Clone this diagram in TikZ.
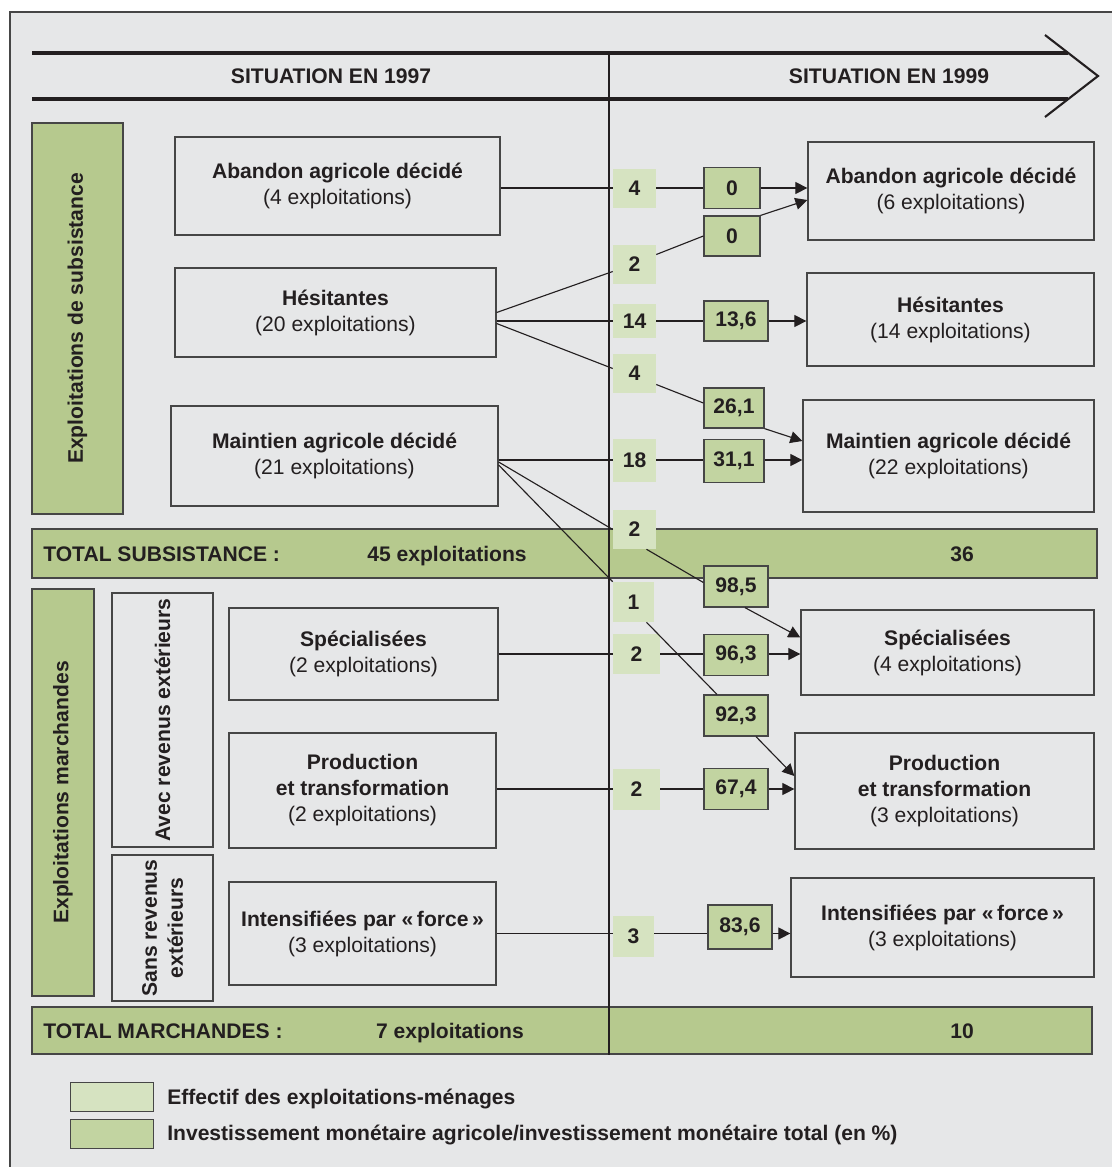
\documentclass[tikz,border=0pt]{standalone}
\usepackage{fontspec}
\setmainfont{Liberation Sans}
\usetikzlibrary{calc,arrows.meta}
\definecolor{fond}{RGB}{230,231,232}
\definecolor{encre}{RGB}{35,31,32}
\definecolor{bord}{RGB}{70,70,70}
\definecolor{vert}{RGB}{182,201,142}
\definecolor{vertclair}{RGB}{214,227,193}
\definecolor{vertinv}{RGB}{194,212,161}
\newcommand\policebox{\fontsize{15}{18.5}\selectfont}
\tikzset{
  taille/.style 2 args={minimum width=#1*0.025cm, minimum height=#2*0.025cm},
  texte/.style={font=\policebox, text=encre, inner sep=0pt},
  gras/.style={font=\policebox\bfseries, text=encre, inner sep=0pt},
  groupe/.style={texte, draw=bord, line width=0.9pt, align=center},
  vertical/.style={gras, draw=bord, line width=0.9pt, rotate=90, align=center},
  barre/.style={draw=bord, fill=vert, line width=0.9pt, inner sep=0pt},
  effectif/.style={gras, fill=vertclair},
  invest/.style={gras, fill=vertinv, draw=bord, line width=0.9pt},
  legende/.style={draw=bord, line width=0.6pt, inner sep=0pt},
  entete/.style={draw=encre, line width=2.2pt},
  lien/.style={draw=encre, line width=0.8pt},
  fleche/.style={lien, -{Triangle[length=8.5pt,width=8.5pt]}},
}

\begin{document}
\begin{tikzpicture}[x=0.025cm,y=-0.025cm]
  \useasboundingbox (0,0) rectangle (1112,1167);
  \fill[white] (0,0) rectangle (1112,1167);
  \fill[fond] (10,12) rectangle (1112,1167);
  \draw[bord, line width=1pt] (10,1167) -- (10,12) -- (1112,12);

  % bandeau des dates
  \draw[entete] (32,53) -- (1068,53);
  \draw[entete] (32,99) -- (1068,99);
  \draw[encre, line width=1.5pt, line join=miter] (1045,35) -- (1098,76) -- (1045,117);
  \node[gras] (an97) at (331,76) {SITUATION EN 1997};
  \node[gras] (an99) at (889,76) {SITUATION EN 1999};

  % totaux
  \node[barre, taille={1065}{49}] (totsub) at (564.5,553.5) {};
  \node[barre, taille={1060}{47}] (totmar) at (562,1030.5) {};
  \draw[encre, line width=1.6pt] (609,53) -- (609,1055);
  \node[gras, anchor=base west] (totsubnom) at (43,561) {TOTAL SUBSISTANCE :};
  \node[gras, anchor=base] (totsub97) at (447,561) {45 exploitations};
  \node[gras, anchor=base] (totsub99) at (962,561) {36};
  \node[gras, anchor=base west] (totmarnom) at (43,1038) {TOTAL MARCHANDES :};
  \node[gras, anchor=base] (totmar97) at (450,1038) {7 exploitations};
  \node[gras, anchor=base] (totmar99) at (962,1038) {10};

  % categories
  \node[vertical, fill=vert, taille={391}{91}] (subsist) at (77.5,318.5) {Exploitations de subsistance};
  \node[vertical, fill=vert, taille={407}{62}] (marchand) at (63,792.5) {Exploitations marchandes};
  \node[vertical, taille={254}{101}] (avec) at (162.5,720) {Avec revenus extérieurs};
  \node[vertical, taille={146}{101}] (sans) at (162.5,928) {Sans revenus\\extérieurs};

  % situation 1997
  \node[groupe, taille={325}{98}] (gauche1) at (337.5,186) {\textbf{Abandon agricole décidé}\\(4 exploitations)};
  \node[groupe, taille={321}{89}] (gauche2) at (335.5,312.5) {\textbf{Hésitantes}\\(20 exploitations)};
  \node[groupe, taille={327}{100}] (gauche3) at (334.5,456) {\textbf{Maintien agricole décidé}\\(21 exploitations)};
  \node[groupe, taille={269}{92}] (gauche4) at (363.5,654) {\textbf{Spécialisées}\\(2 exploitations)};
  \node[groupe, taille={267}{115}] (gauche5) at (362.5,790.5) {\textbf{Production}\\\textbf{et transformation}\\(2 exploitations)};
  \node[groupe, taille={267}{103}] (gauche6) at (362.5,933.5) {\textbf{Intensifiées par «\,force\,»}\\(3 exploitations)};

  % situation 1999
  \node[groupe, taille={286}{98}] (droite1) at (951,191) {\textbf{Abandon agricole décidé}\\(6 exploitations)};
  \node[groupe, taille={287}{93}] (droite2) at (950.5,319.5) {\textbf{Hésitantes}\\(14 exploitations)};
  \node[groupe, taille={291}{112}] (droite3) at (948.5,456) {\textbf{Maintien agricole décidé}\\(22 exploitations)};
  \node[groupe, taille={293}{85}] (droite4) at (947.5,652.5) {\textbf{Spécialisées}\\(4 exploitations)};
  \node[groupe, taille={299}{116}] (droite5) at (944.5,791) {\textbf{Production}\\\textbf{et transformation}\\(3 exploitations)};
  \node[groupe, taille={303}{99}] (droite6) at (942.5,927.5) {\textbf{Intensifiées par «\,force\,»}\\(3 exploitations)};

  % effectifs
  \node[effectif, taille={43}{39}] (eff1) at (634.5,188) {4};
  \node[effectif, taille={43}{39}] (eff2) at (634.5,264.5) {2};
  \node[effectif, taille={43}{34}] (eff3) at (634.5,321) {14};
  \node[effectif, taille={43}{39}] (eff4) at (634.5,373.5) {4};
  \node[effectif, taille={43}{43}] (eff5) at (634.5,460) {18};
  \node[effectif, taille={43}{39}] (eff6) at (634.5,529.5) {2};
  \node[effectif, taille={41}{40}] (eff7) at (633.5,602) {1};
  \node[effectif, taille={47}{40}] (eff8) at (636.5,654) {2};
  \node[effectif, taille={47}{41}] (eff9) at (636.5,789) {2};
  \node[effectif, taille={41}{41}] (eff10) at (633.5,936.5) {3};

  % investissements
  \node[invest, taille={56}{41}] (inv1) at (732,188) {0};
  \node[invest, taille={56}{40}] (inv2) at (732,236) {0};
  \node[invest, taille={64}{40}] (inv3) at (736,321) {13,6};
  \node[invest, taille={60}{40}] (inv4) at (734,408) {26,1};
  \node[invest, taille={60}{43}] (inv5) at (734,461) {31,1};
  \node[invest, taille={64}{41}] (inv6) at (736,586.5) {98,5};
  \node[invest, taille={64}{41}] (inv7) at (736,655) {96,3};
  \node[invest, taille={64}{41}] (inv8) at (736,715.5) {92,3};
  \node[invest, taille={64}{41}] (inv9) at (736,789) {67,4};
  \node[invest, taille={64}{44}] (inv10) at (740,927) {83,6};

  % flux
  \draw[lien] (eff1.west -| gauche1.east) -- (eff1.west);
  \draw[lien] (eff1.east) -- (eff1.east -| inv1.west);
  \draw[fleche] (inv1.east) -- (inv1.east -| droite1.west);

  \draw[lien] (gauche2.east) -- ($(eff2.west)+(0,7)$);
  \draw[lien] ($(eff2.east)+(0,-10)$) -- (inv2.west);
  \draw[fleche] (inv2.north east) -- ($(droite1.west)+(0,9)$);

  \draw[lien] (eff3.west -| gauche2.east) -- (eff3.west);
  \draw[lien] (eff3.east) -- (eff3.east -| inv3.west);
  \draw[fleche] (inv3.east |- eff3.east) -- (eff3.east -| droite2.west);

  \draw[lien] ($(gauche2.east)+(0,11)$) -- ($(eff4.west)+(0,-5)$);
  \draw[lien] ($(eff4.east)+(0,11)$) -- ($(inv4.west)+(0,-5)$);
  \draw[fleche] (inv4.south east) -- ($(droite3.west)+(0,-15)$);

  \draw[lien] (eff5.west -| gauche3.east) -- (eff5.west);
  \draw[lien] (eff5.east) -- (eff5.east -| inv5.west);
  \draw[fleche] (inv5.east |- eff5.east) -- (eff5.east -| droite3.west);

  \draw[lien] ($(gauche3.east)+(0,6)$) -- (eff6.west);
  \draw[lien] ($(eff6.south)+(12,0)$) -- ($(inv6.west)+(0,-4)$);
  \draw[fleche] ($(inv6.south)+(9,0)$) -- ($(droite4.west)+(0,-15)$);

  \draw[lien] ($(gauche3.east)+(0,9)$) -- (eff7.north west);
  \draw[lien] ($(eff7.south)+(13,0)$) -- ($(inv8.north)+(-19,0)$);
  \draw[fleche] ($(inv8.south)+(20,0)$) -- ($(droite5.west)+(0,-15)$);

  \draw[lien] (eff8.west -| gauche4.east) -- (eff8.west);
  \draw[lien] (eff8.east) -- (eff8.east -| inv7.west);
  \draw[fleche] (inv7.east |- eff8.east) -- (eff8.east -| droite4.west);

  \draw[lien] (eff9.west -| gauche5.east) -- (eff9.west);
  \draw[lien] (eff9.east) -- (eff9.east -| inv9.west);
  \draw[fleche] (inv9.east) -- (inv9.east -| droite5.west);

  \draw[lien] (gauche6.east) -- (gauche6.east -| eff10.west);
  \draw[lien] (eff10.east |- gauche6.east) -- (inv10.west |- gauche6.east);
  \draw[fleche] (inv10.east |- gauche6.east) -- (droite6.west |- gauche6.east);

  % legende
  \node[legende, fill=vertclair, taille={83}{29}] (leg1) at (111.5,1096.5) {};
  \node[legende, fill=vertinv, taille={83}{29}] (leg2) at (111.5,1133.5) {};
  \node[gras, anchor=base west] (leg1txt) at (167,1104) {Effectif des exploitations-ménages};
  \node[gras, anchor=base west] (leg2txt) at (167,1140) {Investissement monétaire agricole/investissement monétaire total (en \%)};
\end{tikzpicture}
\end{document}
